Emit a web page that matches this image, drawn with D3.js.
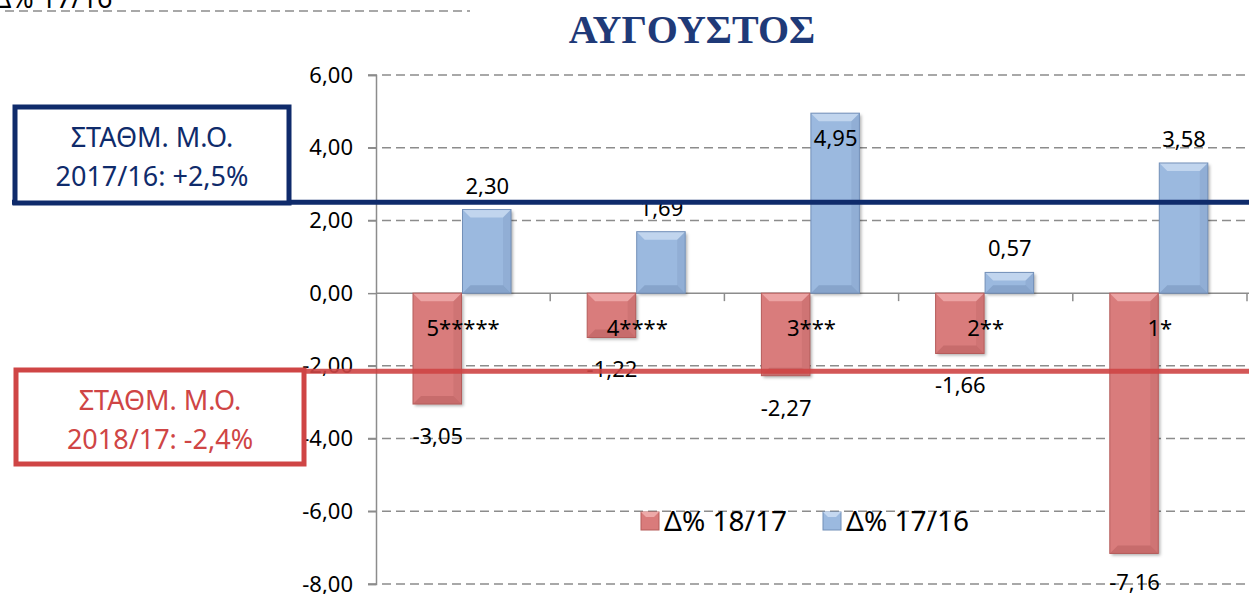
<!DOCTYPE html>
<html>
<head>
<meta charset="utf-8">
<script src="https://cdn.jsdelivr.net/npm/d3@7"></script>
<style>
  body { margin: 0; background: #fff; }
  svg { display: block; font-family: "Noto Sans", "Open Sans", sans-serif; }
</style>
</head>
<body>
<div id="chart"></div>
<script>
// data
const categories = ["5*****", "4****", "3***", "2**", "1*"];
const series = ["Δ% 18/17", "Δ% 17/16"];
const d1817 = [-3.05, -1.22, -2.27, -1.66, -7.16];
const d1716 = [2.30, 1.69, 4.95, 0.57, 3.58];
const yTicks = [6, 4, 2, 0, -2, -4, -6, -8];
// where the value label of the 17/16 bar sits ("in" = clipped inside bar)
const labelPos1716 = ["out", "out", "in", "out", "out"];
// average lines as drawn in the picture
const avgValues = [2.5, -2.15];
const avgTexts = [["ΣΤΑΘΜ. Μ.Ο.", "2017/16: +2,5%"], ["ΣΤΑΘΜ. Μ.Ο.", "2018/17: -2,4%"]];

const W = 1249, H = 594;
const navy = "#0F2B6B", red = "#CF4545";
const cols = [
  { fill: "#D97B7B", light: "#EDA9A8", dark: "#B55C5B" },
  { fill: "#9BB9DF", light: "#C5D8F0", dark: "#7390B8" }
];

const loc = d3.formatLocale({ decimal: ",", thousands: ".", grouping: [3], currency: ["", "€"], minus: "-" });
const fmt = loc.format(".2f");

let svg = d3.select("#chart").append("svg")
  .attr("width", W).attr("height", H);

let defs = svg.append("defs");
let f = defs.append("filter").attr("id", "sh").attr("x", "-20%").attr("y", "-20%").attr("width", "150%").attr("height", "150%");
f.append("feDropShadow").attr("dx", 2).attr("dy", 2).attr("stdDeviation", 1.5).attr("flood-color", "#000").attr("flood-opacity", 0.3);

let y = d3.scaleLinear().domain([-8, 6]).range([584, 75]);
let x0 = d3.scaleBand().domain(categories).range([376, 1247]).padding(0);
let x1 = d3.scaleBand().domain([0, 1]).range([37, 136]).padding(0);

// leftover piece of another chart at the top-left
svg.append("text").attr("x", -6).attr("y", 8)
  .attr("font-size", 27).attr("fill", "#000").text("Δ% 17/16");
svg.append("line").attr("x1", 5).attr("x2", 470).attr("y1", 11).attr("y2", 11)
  .attr("stroke", "#8c8c8c").attr("stroke-width", 1.5).attr("stroke-dasharray", "9,5");

// title
svg.append("text").attr("x", 692).attr("y", 43).attr("text-anchor", "middle")
  .attr("font-family", "'Liberation Serif', 'DejaVu Serif', serif")
  .attr("font-weight", "bold").attr("font-size", 40).attr("fill", "#1F3A78")
  .text("ΑΥΓΟΥΣΤΟΣ");

// gridlines
svg.append("g").selectAll("line")
  .data(yTicks.filter(d => d !== 0))
  .enter().append("line")
  .attr("x1", 368).attr("x2", W)
  .attr("y1", d => y(d)).attr("y2", d => y(d))
  .attr("stroke", "#8c8c8c").attr("stroke-width", 1.5).attr("stroke-dasharray", "9,5");

// y axis
let yAxis = svg.append("g").attr("transform", "translate(376,0)")
  .call(d3.axisLeft(y).tickValues(yTicks).tickFormat(fmt).tickSize(8).tickPadding(15));
yAxis.select(".domain").attr("stroke", "#8c8c8c").attr("stroke-width", 1.5);
yAxis.selectAll(".tick line").attr("stroke", "#8c8c8c").attr("stroke-width", 1.5);
yAxis.selectAll("text").attr("font-size", 22).attr("fill", "#000")
  .attr("font-family", "'Noto Sans', sans-serif");

// zero line with category ticks
svg.append("line").attr("x1", 376).attr("x2", W).attr("y1", y(0)).attr("y2", y(0))
  .attr("stroke", "#8c8c8c").attr("stroke-width", 1.5);
svg.append("g").selectAll("line")
  .data(categories)
  .enter().append("line")
  .attr("x1", d => x0(d) + x0.bandwidth()).attr("x2", d => x0(d) + x0.bandwidth())
  .attr("y1", y(0)).attr("y2", y(0) + 8)
  .attr("stroke", "#8c8c8c").attr("stroke-width", 1.5);

// bars with a bevel look
function bevelBar(g, bx, bw, v, c) {
  let top = Math.min(y(v), y(0)), h = Math.abs(y(v) - y(0));
  let e = Math.min(8, h / 2);
  g.append("rect").attr("x", bx).attr("y", top).attr("width", bw).attr("height", h)
    .attr("fill", c.fill).attr("filter", "url(#sh)");
  g.append("path").attr("fill", c.light).attr("opacity", 0.9)
    .attr("d", `M${bx},${top}L${bx + bw},${top}L${bx + bw - e},${top + e}L${bx + e},${top + e}Z`);
  g.append("path").attr("fill", c.dark).attr("opacity", 0.5)
    .attr("d", `M${bx},${top + h}L${bx + bw},${top + h}L${bx + bw - e},${top + h - e}L${bx + e},${top + h - e}Z`);
  g.append("path").attr("fill", c.dark).attr("opacity", 0.25)
    .attr("d", `M${bx + bw},${top}L${bx + bw},${top + h}L${bx + bw - e},${top + h - e}L${bx + bw - e},${top + e}Z`);
  g.append("rect").attr("x", bx).attr("y", top).attr("width", bw).attr("height", h)
    .attr("fill", "none").attr("stroke", c.dark).attr("stroke-width", 1);
}

let bars = svg.append("g");
categories.forEach(function (cat, i) {
  bevelBar(bars, x0(cat) + x1(0), x1.bandwidth() - 1, d1817[i], cols[0]);
  bevelBar(bars, x0(cat) + x1(1), x1.bandwidth() - 1, d1716[i], cols[1]);
});

// value labels
let labels = svg.append("g").attr("font-size", 22).attr("fill", "#000").attr("text-anchor", "middle");
categories.forEach(function (cat, i) {
  labels.append("text")
    .attr("x", x0(cat) + x1(0) + x1.bandwidth() / 2)
    .attr("y", Math.min(y(d1817[i]) + 40, H - 4))
    .text(fmt(d1817[i]));
  labels.append("text")
    .attr("x", x0(cat) + x1(1) + x1.bandwidth() / 2)
    .attr("y", labelPos1716[i] === "in" ? y(d1716[i]) + 33 : y(d1716[i]) - 16)
    .text(fmt(d1716[i]));
  // category names
  labels.append("text")
    .attr("x", x0(cat) + x0.bandwidth() / 2)
    .attr("y", y(0) + 43)
    .text(cat);
});

// average lines
svg.append("line").attr("x1", 12).attr("x2", W).attr("y1", y(avgValues[0])).attr("y2", y(avgValues[0]))
  .attr("stroke", navy).attr("stroke-width", 5);
svg.append("line").attr("x1", 14).attr("x2", W).attr("y1", y(avgValues[1])).attr("y2", y(avgValues[1]))
  .attr("stroke", red).attr("stroke-width", 5).attr("opacity", 0.9);

// boxes
function box(x, yy, w, h, color, lines) {
  svg.append("rect").attr("x", x).attr("y", yy).attr("width", w).attr("height", h)
    .attr("fill", "#fff").attr("stroke", color).attr("stroke-width", 5);
  svg.append("g").selectAll("text").data(lines).enter().append("text")
    .attr("x", x + w / 2).attr("y", (d, i) => yy + 40 + i * 39)
    .attr("text-anchor", "middle").attr("font-size", 27).attr("fill", color)
    .text(d => d);
}
box(15, 107, 274, 96, navy, avgTexts[0]);
box(16, 370, 288, 94, red, avgTexts[1]);

// legend
let leg = svg.append("g").attr("transform", "translate(641,512)");
series.forEach(function (s, i) {
  let gx = i * 182;
  let c = cols[i];
  leg.append("rect").attr("x", gx).attr("y", 0).attr("width", 18).attr("height", 18).attr("fill", c.fill)
    .attr("stroke", c.dark).attr("stroke-width", 1);
  leg.append("path").attr("fill", c.light)
    .attr("d", `M${gx},0L${gx + 18},0L${gx + 13},5L${gx + 5},5Z`);
  leg.append("text").attr("x", gx + 23).attr("y", 19).attr("font-size", 28).attr("fill", "#000").text(s);
});
</script>
</body>
</html>
